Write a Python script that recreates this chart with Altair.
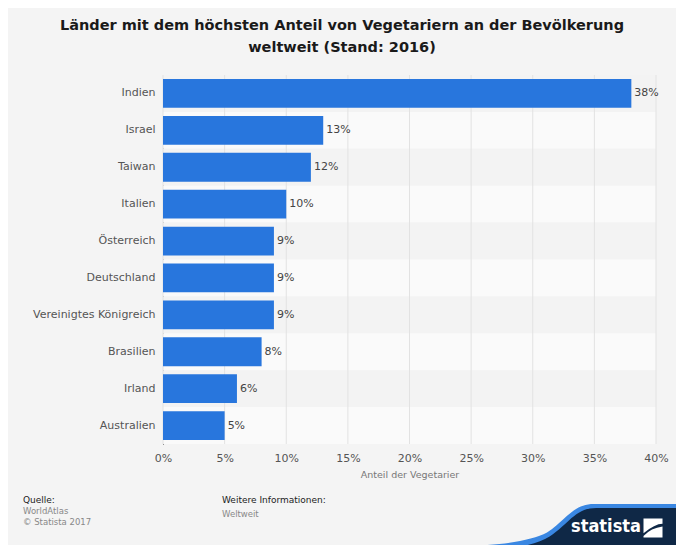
import altair as alt
import pandas as pd

# ---- data ----
laender = ["Indien", "Israel", "Taiwan", "Italien", "Österreich", "Deutschland",
           "Vereinigtes Königreich", "Brasilien", "Irland", "Australien"]
anteile = [38, 13, 12, 10, 9, 9, 9, 8, 6, 5]
x_ticks = [0, 5, 10, 15, 20, 25, 30, 35, 40]
title_lines = ["Länder mit dem höchsten Anteil von Vegetariern an der Bevölkerung",
               "weltweit (Stand: 2016)"]
x_title = "Anteil der Vegetarier"
quelle = ["Quelle:", "WorldAtlas", "© Statista 2017"]
info = ["Weitere Informationen:", "Weltweit"]

W, H = 493, 369
FONT = "DejaVu Sans"
BLUE = "#2876dd"

df = pd.DataFrame({
    "Land": laender,
    "Anteil": anteile,
    "Label": [f"{v}%" for v in anteile],
    "Streifen": ["a" if i % 2 == 0 else "b" for i in range(len(laender))],
})
ticks_df = pd.DataFrame({"t": x_ticks})

x_scale = alt.Scale(domain=[0, 40], nice=False)
x_axis = alt.Axis(values=x_ticks, labelExpr="datum.value + '%'", grid=False, ticks=False,
                  domain=False, labelFontSize=11, labelColor="#555", labelFont=FONT,
                  labelFlush=False, labelPadding=8, title=x_title, titleFontSize=9.5,
                  titleColor="#777", titleFont=FONT, titleFontWeight="normal", titlePadding=6)

stripes = alt.Chart(df).mark_rect().encode(
    y=alt.Y("Land:N", sort=laender, axis=None,
            scale=alt.Scale(paddingInner=0, paddingOuter=0)),
    x=alt.value(0), x2=alt.value(W),
    color=alt.Color("Streifen:N", scale=alt.Scale(domain=["a", "b"], range=["#f3f3f3", "#fafafa"]),
                    legend=None),
)

grid = alt.Chart(ticks_df).mark_rule(color="#e2e2e2", strokeWidth=1).encode(
    x=alt.X("t:Q", scale=x_scale, axis=x_axis)
)

y_enc = alt.Y("Land:N", sort=laender, title=None,
              scale=alt.Scale(paddingInner=0.22, paddingOuter=0.11),
              axis=alt.Axis(ticks=False, domain=True, domainColor="#333", domainWidth=1,
                            labelFontSize=11, labelColor="#555", labelFont=FONT,
                            labelPadding=8, grid=False))

bars = alt.Chart(df).mark_bar(color=BLUE).encode(
    y=y_enc,
    x=alt.X("Anteil:Q", scale=x_scale, axis=x_axis),
)
labels = alt.Chart(df).mark_text(align="left", baseline="middle", dx=3, fontSize=11,
                                 color="#444", font=FONT).encode(
    y=y_enc,
    x=alt.X("Anteil:Q", scale=x_scale, axis=x_axis),
    text="Label:N",
)

inner = alt.layer(grid, bars, labels)

# ---- decorations (positions relative to plot area) ----
def txt(s, x, y, size, color, weight="normal", align="left", font=FONT):
    return alt.Chart(pd.DataFrame({"s": [s]})).mark_text(
        align=align, baseline="middle", fontSize=size, color=color,
        fontWeight=weight, font=font).encode(
        text="s:N", x=alt.value(x), y=alt.value(y))

deco = [
    txt(title_lines[0], 179, -49, 14.5, "#1a1a1a", "bold", "center"),
    txt(title_lines[1], 179, -27, 14.5, "#1a1a1a", "bold", "center"),
    txt(quelle[0], -140, 425, 9, "#222"),
    txt(quelle[1], -140, 436, 8.5, "#888"),
    txt(quelle[2], -140, 447, 8.5, "#888"),
    txt(info[0], 59, 425, 9, "#222"),
    txt(info[1], 59, 439, 8.5, "#888"),
]

wave_path = ("M 1.1,-0.2 L 0.26,-0.2 C 0.1,-0.2 0.05,-0.08 -0.1,0.02 "
             "C -0.3,0.13 -0.8,0.135 -1.5,0.14 L -1.5,0.2 L 1.1,0.2 Z")
navy_path = ("M 1.1,-0.17 L 0.28,-0.17 C 0.12,-0.17 0.07,-0.05 -0.08,0.05 "
             "C -0.22,0.14 -0.5,0.16 -0.8,0.17 L 1.1,0.2 Z")
logo_path = ("M -1,-1 L 1,-1 L 1,-0.45 Q 0.2,-0.45 -1,0.55 Z "
             "M 1,1 L -1,1 L -1,0.85 Q -0.2,0.0 1,-0.15 Z")

def sym(path, x, y, w, color):
    return alt.Chart(pd.DataFrame({"k": [0]})).mark_point(
        shape=path, filled=True, fill=color, strokeWidth=0, opacity=1,
        size=w * w).encode(x=alt.value(x), y=alt.value(y))

deco += [
    sym(wave_path, 397, 455, 260, "#3a87e2"),
    sym(navy_path, 397, 455, 260, "#0f2846"),
    txt("statista", 443, 452, 18, "white", "bold", "center", "DejaVu Sans Condensed"),
    sym(logo_path, 490, 453, 19, "white"),
]

chart = alt.layer(stripes, inner, *deco).resolve_scale(y="independent").properties(
    width=W, height=H,
    autosize=alt.AutoSizeParams(type="none"),
    padding={"left": 155, "top": 67, "right": 20, "bottom": 101},
    background="#f4f4f4",
).configure_view(stroke=None)

chart.save("out.html", embed_options={"renderer": "svg", "actions": False})
